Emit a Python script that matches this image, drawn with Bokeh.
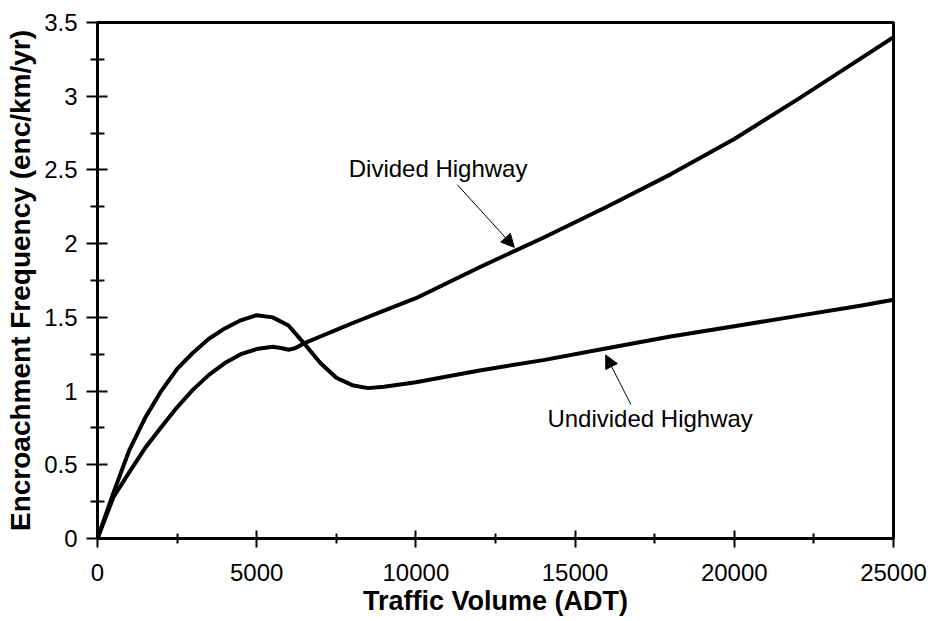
from bokeh.plotting import figure
from bokeh.models import FixedTicker, CustomJSTickFormatter, Arrow, NormalHead, Label
from bokeh.embed import file_html
from bokeh.resources import INLINE

# ---- data ----
undivided_x = [0, 500, 1000, 1500, 2000, 2500, 3000, 3500, 4000, 4500, 5000, 5500, 6000,
               6500, 7000, 7500, 8000, 8500, 9000, 10000, 12000, 14000, 16000, 18000,
               20000, 22000, 24000, 25000]
undivided_y = [0, 0.31, 0.60, 0.82, 1.00, 1.15, 1.26, 1.355, 1.425, 1.48, 1.515, 1.50, 1.445,
               1.32, 1.19, 1.09, 1.04, 1.02, 1.03, 1.06, 1.14, 1.21, 1.29, 1.37,
               1.44, 1.51, 1.58, 1.62]

divided_x = [0, 500, 1000, 1500, 2000, 2500, 3000, 3500, 4000, 4500, 5000, 5500, 5800,
             6000, 6200, 6500, 7000, 7500, 8000, 9000, 10000, 12000, 14000, 16000, 18000,
             20000, 22000, 24000, 25000]
divided_y = [0, 0.28, 0.45, 0.615, 0.755, 0.89, 1.01, 1.11, 1.19, 1.25, 1.285, 1.30, 1.29,
             1.28, 1.29, 1.325, 1.37, 1.415, 1.46, 1.545, 1.63, 1.84, 2.04, 2.25, 2.47,
             2.71, 2.98, 3.26, 3.40]

x_ticks = [0, 5000, 10000, 15000, 20000, 25000]
x_minor = [2500, 7500, 12500, 17500, 22500]
y_ticks = [0, 0.5, 1, 1.5, 2, 2.5, 3, 3.5]
y_minor = [0.25, 0.75, 1.25, 1.75, 2.25, 2.75, 3.25]

x_title = "Traffic Volume (ADT)"
y_title = "Encroachment Frequency (enc/km/yr)"
divided_label = "Divided Highway"
undivided_label = "Undivided Highway"

# annotation anchors (data units)
divided_text_pos = (7890, 2.51)
divided_arrow = (11300, 2.40, 13090, 1.975)
undivided_text_pos = (14130, 0.815)
undivided_arrow = (16750, 0.91, 15960, 1.245)

FONT = "Liberation Sans"

p = figure(frame_width=796, frame_height=516, min_border_left=97, min_border_right=36,
           min_border_top=22, min_border_bottom=80,
           x_range=(0, 25000), y_range=(0, 3.5),
           output_backend="svg", toolbar_location=None, tools="")

p.background_fill_color = "white"
p.border_fill_color = "white"
p.outline_line_color = "black"
p.outline_line_width = 3
p.xgrid.visible = False
p.ygrid.visible = False

p.line(undivided_x, undivided_y, line_color="black", line_width=4, line_join="round")
p.line(divided_x, divided_y, line_color="black", line_width=4, line_join="round")

fmt = CustomJSTickFormatter(code="return String(tick);")

for ax, ticks, minor in ((p.xaxis[0], x_ticks, x_minor), (p.yaxis[0], y_ticks, y_minor)):
    ax.ticker = FixedTicker(ticks=ticks, minor_ticks=minor)
    ax.formatter = fmt
    ax.axis_line_color = "black"
    ax.axis_line_width = 3
    ax.major_tick_line_color = "black"
    ax.major_tick_line_width = 2
    ax.minor_tick_line_color = "black"
    ax.minor_tick_line_width = 2
    ax.major_label_text_font = FONT
    ax.major_label_text_font_size = "24px"
    ax.major_label_text_color = "black"
    ax.axis_label_text_font = FONT
    ax.axis_label_text_color = "black"

xa = p.xaxis[0]
xa.major_tick_in = 8
xa.major_tick_out = 9
xa.minor_tick_in = 5
xa.minor_tick_out = 5
xa.major_label_standoff = 16
xa.axis_label = x_title
xa.axis_label_text_font_style = "bold"
xa.axis_label_text_font_size = "27px"
xa.axis_label_standoff = 2

ya = p.yaxis[0]
ya.major_tick_in = 10
ya.major_tick_out = 11
ya.minor_tick_in = 7
ya.minor_tick_out = 7
ya.major_label_standoff = 9
ya.axis_label = y_title
ya.axis_label_text_font_style = "bold"
ya.axis_label_text_font_size = "28px"
ya.axis_label_standoff = 5

head = dict(size=13, fill_color="black", line_color="black", line_width=1)
p.add_layout(Arrow(end=NormalHead(**head), x_start=divided_arrow[0], y_start=divided_arrow[1],
                   x_end=divided_arrow[2], y_end=divided_arrow[3],
                   line_color="black", line_width=1))
p.add_layout(Arrow(end=NormalHead(**head), x_start=undivided_arrow[0], y_start=undivided_arrow[1],
                   x_end=undivided_arrow[2], y_end=undivided_arrow[3],
                   line_color="black", line_width=1))

p.add_layout(Label(x=divided_text_pos[0], y=divided_text_pos[1], text=divided_label,
                   text_font=FONT, text_font_size="24px", text_color="black",
                   text_align="left", text_baseline="middle"))
p.add_layout(Label(x=undivided_text_pos[0], y=undivided_text_pos[1], text=undivided_label,
                   text_font=FONT, text_font_size="24px", text_color="black",
                   text_align="left", text_baseline="middle"))

open("out.html", "w").write(file_html(p, INLINE))
